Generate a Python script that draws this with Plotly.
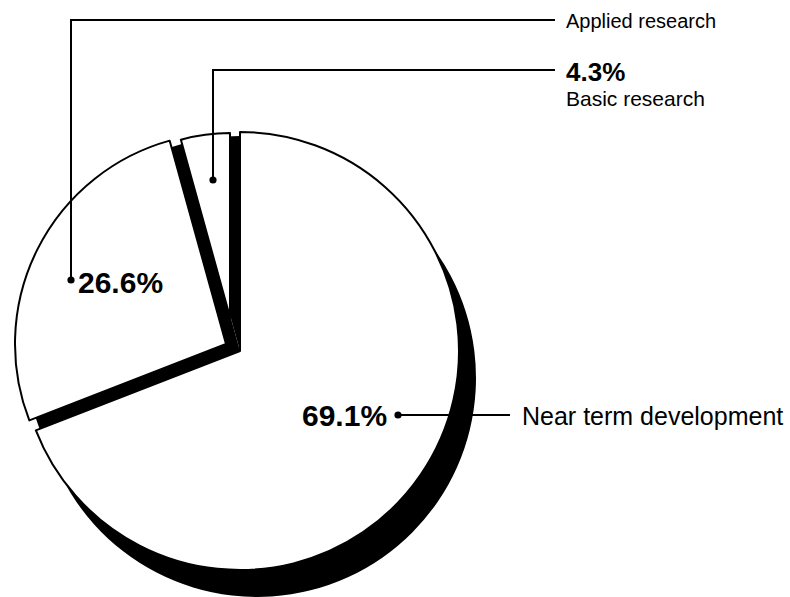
import plotly.graph_objects as go

# ---- data ----
categories = ["Near term development", "Applied research", "Basic research"]
shares = [69.1, 26.6, 4.3]
pct_labels = ["69.1%", "26.6%", "4.3%"]

W, H = 790, 597
CLEAR = "rgba(0,0,0,0)"
FONT = "Liberation Sans, Arial, Helvetica, sans-serif"


def px(x):
    return x / W


def py(y):
    return 1 - y / H


def dom(cx, cy, r):
    x0, x1 = (cx - r) / W, (cx + r) / W
    y0, y1 = 1 - (cy + r) / H, 1 - (cy - r) / H
    clip = lambda v: min(1.0, max(0.0, v))
    return dict(x=[clip(x0), clip(x1)], y=[clip(y0), clip(y1)])


# slice placement (center x, center y, radius in px) -- exploded pie look
geom = {
    0: (240, 351, 219),   # near term development
    1: (226, 344, 211),   # applied research
    2: (230, 317, 184),   # basic research
}

fig = go.Figure()

common = dict(labels=categories, values=shares, sort=False, direction="clockwise",
              rotation=0, textinfo="none", hoverinfo="skip", showlegend=False)

# shadow of the big slice
cx, cy, r = geom[0]
fig.add_trace(go.Pie(**common, domain=dom(cx + 17, cy + 27, r),
                     marker=dict(colors=["black", CLEAR, CLEAR],
                                 line=dict(width=0, color=CLEAR))))
# dark core visible through the gaps between slices
fig.add_trace(go.Pie(**common, domain=dom(cx, cy, 215),
                     marker=dict(colors=["black"] * 3,
                                 line=dict(width=0, color="black"))))

# white slices with black outlines
for i in [1, 2, 0]:
    cx, cy, r = geom[i]
    cols = ["white" if j == i else CLEAR for j in range(3)]
    lcols = ["black" if j == i else CLEAR for j in range(3)]
    lw = [2 if j == i else 0 for j in range(3)]
    fig.add_trace(go.Pie(**common, domain=dom(cx, cy, r),
                         marker=dict(colors=cols, line=dict(color=lcols, width=lw))))

shapes = []
annotations = []


def line(points):
    path = "M " + " L ".join(f"{px(x)},{py(y)}" for x, y in points)
    shapes.append(dict(type="path", path=path, xref="paper", yref="paper",
                       line=dict(color="black", width=2), layer="above"))


def dot(x, y, rr=3.6):
    shapes.append(dict(type="circle", xref="paper", yref="paper",
                       x0=px(x - rr), x1=px(x + rr), y0=py(y + rr), y1=py(y - rr),
                       fillcolor="black", line=dict(color="black", width=0), layer="above"))


def text(x, y, s, size, bold=False, anchor="left"):
    annotations.append(dict(x=px(x), y=py(y), xref="paper", yref="paper",
                            text=f"<b>{s}</b>" if bold else s, showarrow=False,
                            xanchor=anchor, yanchor="middle",
                            font=dict(family=FONT, size=size, color="black")))


# Applied research leader
line([(71, 280), (71, 20), (555, 20)])
dot(71, 280)
text(564, 21, categories[1], 20)
text(76, 282, pct_labels[1], 30, bold=True)

# Basic research leader
line([(213, 180), (213, 70), (555, 70)])
dot(213, 180)
text(564, 72, pct_labels[2], 26, bold=True)
text(564, 98, categories[2], 21)

# Near term development leader
line([(398, 415), (510, 415)])
dot(398, 415)
text(389, 415, pct_labels[0], 30, bold=True, anchor="right")
text(520, 416, categories[0], 25)

fig.update_layout(width=W, height=H, margin=dict(l=0, r=0, t=0, b=0),
                  paper_bgcolor="white", plot_bgcolor="white",
                  shapes=shapes, annotations=annotations)

fig.write_html("out.html", config={"displayModeBar": False})
